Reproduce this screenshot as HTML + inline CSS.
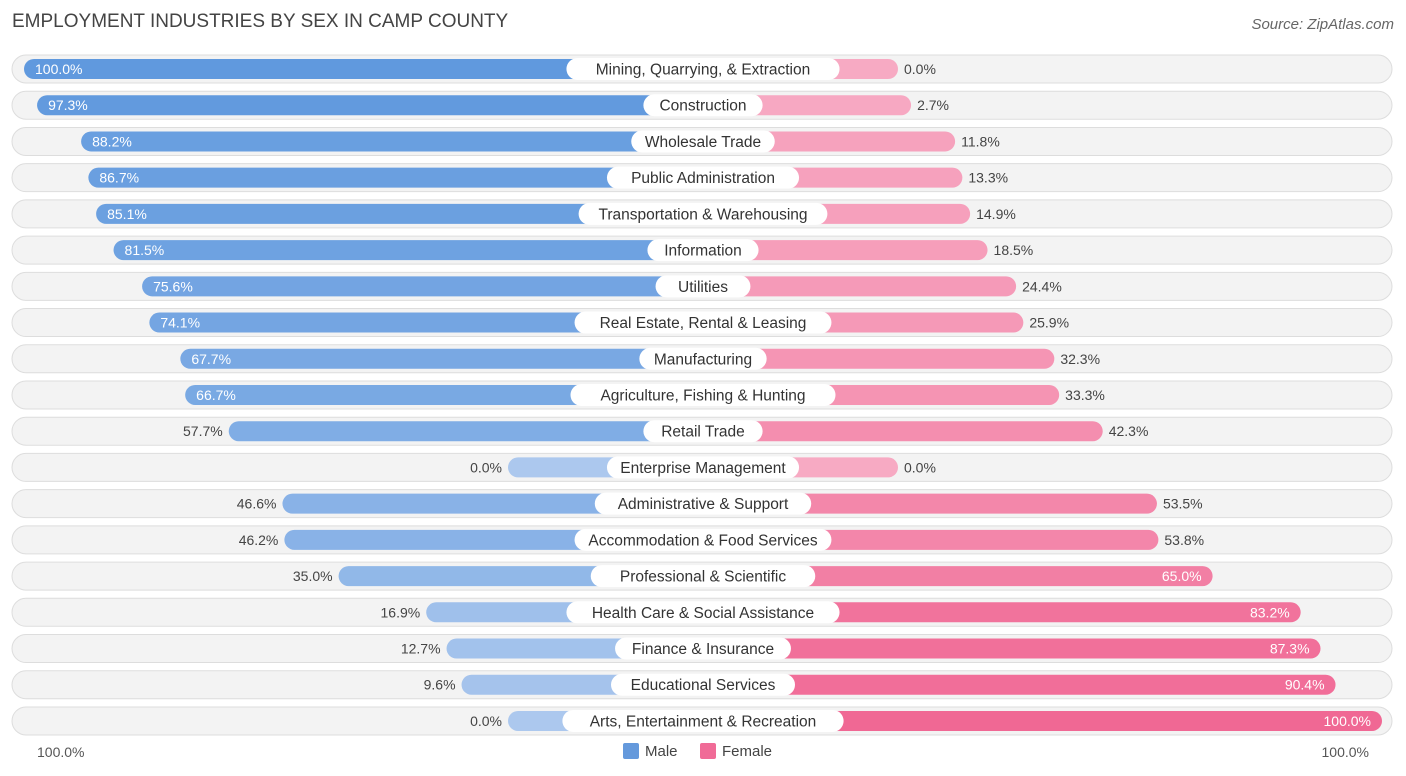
<!DOCTYPE html>
<html><head><meta charset="utf-8"><style>
body{margin:0;width:1406px;height:776px;background:#fff;font-family:"Liberation Sans",sans-serif;position:relative;overflow:hidden}
.t{position:absolute;white-space:nowrap}
</style></head><body>
<div class="t" style="left:12px;top:11px;font-size:19px;color:#444">EMPLOYMENT INDUSTRIES BY SEX IN CAMP COUNTY</div>
<div class="t" style="right:12px;top:16px;font-size:15px;color:#666;font-style:italic">Source: ZipAtlas.com</div>
<svg id="c" width="1406" height="776" style="position:absolute;left:0;top:0"></svg>
<script>
const categories=["Mining, Quarrying, & Extraction","Construction","Wholesale Trade","Public Administration","Transportation & Warehousing","Information","Utilities","Real Estate, Rental & Leasing","Manufacturing","Agriculture, Fishing & Hunting","Retail Trade","Enterprise Management","Administrative & Support","Accommodation & Food Services","Professional & Scientific","Health Care & Social Assistance","Finance & Insurance","Educational Services","Arts, Entertainment & Recreation"];
const male=[100.0,97.3,88.2,86.7,85.1,81.5,75.6,74.1,67.7,66.7,57.7,0.0,46.6,46.2,35.0,16.9,12.7,9.6,0.0];
const female=[0.0,2.7,11.8,13.3,14.9,18.5,24.4,25.9,32.3,33.3,42.3,0.0,53.5,53.8,65.0,83.2,87.3,90.4,100.0];
const svg=document.getElementById('c');const NS='http://www.w3.org/2000/svg';
const cx=703,y0=69,dy=36.22,base=195,k=4.84;
function len(v){return base+v*k;}
function mix(a,b,t){return 'rgb('+a.map((x,i)=>Math.round(x+(b[i]-x)*t)).join(',')+')';}
function el(tag,attrs,txt){const e=document.createElementNS(NS,tag);for(const a in attrs)e.setAttribute(a,attrs[a]);if(txt!==undefined)e.textContent=txt;svg.appendChild(e);return e;}
categories.forEach((c,i)=>{
 const y=y0+i*dy;
 const bg=el('rect',{x:12,y:y-14,width:1380,height:28,rx:14,fill:'#f3f3f3',stroke:'#dddddd'});
 
 const ml=len(male[i]);
 const mb=el('rect',{x:cx-ml,y:y-10,width:ml,height:20,rx:10,fill:mix([172,200,238],[96,153,222],male[i]/100)});
 
 const fl=len(female[i]);
 const fb=el('rect',{x:cx,y:y-10,width:fl,height:20,rx:10,fill:mix([247,170,195],[240,104,148],female[i]/100)});
 
 const lw=c.length*8.1+22;
 const lb=el('rect',{x:cx-lw/2,y:y-11,width:lw,height:22,rx:11,fill:'#fff'});
 
 const lt=el('text',{x:cx,y:y+5.5,'text-anchor':'middle','font-size':15.5,fill:'#333'},c);
 
 const mIn=male[i]>60;
 const mt=el('text',{x:mIn?cx-ml+11:cx-ml-6,y:y+5,'text-anchor':mIn?'start':'end','font-size':14,fill:mIn?'#fff':'#444'},male[i].toFixed(1)+'%');
 
 const fIn=female[i]>60;
 const ft=el('text',{x:fIn?cx+fl-11:cx+fl+6,y:y+5,'text-anchor':fIn?'end':'start','font-size':14,fill:fIn?'#fff':'#444'},female[i].toFixed(1)+'%');
 
});
</script>
<div class="t" style="left:37px;top:744px;font-size:14px;color:#555">100.0%</div>
<div class="t" style="right:37px;top:744px;font-size:14px;color:#555">100.0%</div>
<div class="t" style="left:623px;top:743px;font-size:15px;color:#444"><span style="display:inline-block;width:16px;height:16px;background:#6499dc;border-radius:2px;vertical-align:-3px;margin-right:6px"></span>Male</div>
<div class="t" style="left:700px;top:743px;font-size:15px;color:#444"><span style="display:inline-block;width:16px;height:16px;background:#f06b97;border-radius:2px;vertical-align:-3px;margin-right:6px"></span>Female</div>
</body></html>
